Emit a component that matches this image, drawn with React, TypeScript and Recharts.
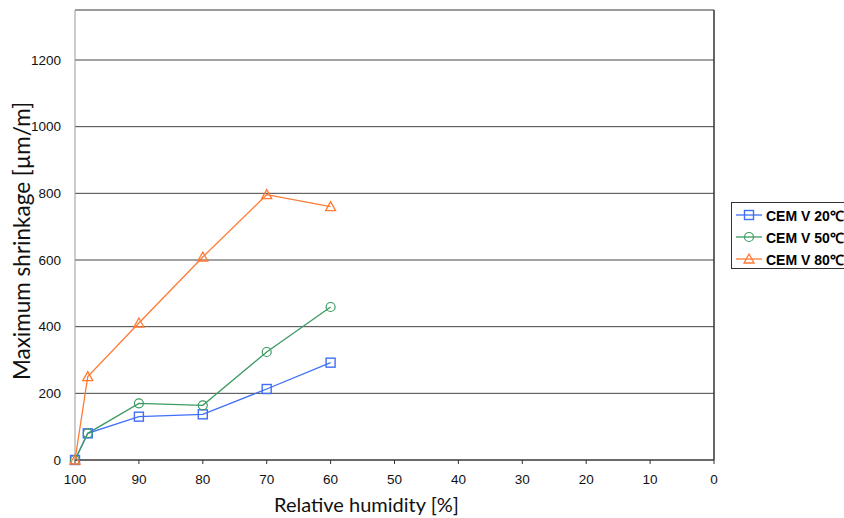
import React from "react";
import { LineChart, Line, XAxis, YAxis, CartesianGrid, ReferenceLine, Legend, Label } from "recharts";

const humidity = [100, 98, 90, 80, 70, 60];
const cem20 = [0, 80, 130, 137, 213, 292];
const cem50 = [0, 80, 170, 164, 324, 459];
const cem80 = [0, 250, 411, 609, 796, 760];
const xTicks = [100, 90, 80, 70, 60, 50, 40, 30, 20, 10, 0];
const yTicks = [0, 200, 400, 600, 800, 1000, 1200];
const seriesNames = ["CEM V 20℃", "CEM V 50℃", "CEM V 80℃"];

const BLUE = "#3f6ff5";
const GREEN = "#3c9a63";
const ORANGE = "#ff7a33";

const data = humidity.map((h, i) => ({ h, s20: cem20[i], s50: cem50[i], s80: cem80[i] }));

const Square = (props: any) => {
  const { cx, cy, stroke } = props;
  if (cx == null || cy == null) return null;
  return <rect x={cx - 4.5} y={cy - 4.5} width={9} height={9} fill="none" stroke={stroke} strokeWidth={1.4} />;
};
const Circle = (props: any) => {
  const { cx, cy, stroke } = props;
  if (cx == null || cy == null) return null;
  return <circle cx={cx} cy={cy} r={4.5} fill="none" stroke={stroke} strokeWidth={1.2} />;
};
const Triangle = (props: any) => {
  const { cx, cy, stroke } = props;
  if (cx == null || cy == null) return null;
  return (
    <polygon
      points={`${cx},${cy - 5} ${cx - 5},${cy + 4} ${cx + 5},${cy + 4}`}
      fill="none"
      stroke={stroke}
      strokeWidth={1.3}
    />
  );
};

const legendItems = [
  { name: seriesNames[0], color: BLUE, Marker: Square },
  { name: seriesNames[1], color: GREEN, Marker: Circle },
  { name: seriesNames[2], color: ORANGE, Marker: Triangle },
];

const LegendContent = () => (
  <div
    style={{
      border: "1px solid #333",
      background: "#fff",
      padding: "1px 0 1px 3px",
      width: 116,
      height: 67,
      boxSizing: "border-box",
    }}
  >
    {legendItems.map((it) => (
      <div key={it.name} style={{ display: "flex", alignItems: "center", height: 22 }}>
        <svg width={28} height={14}>
          <line x1={1} y1={7} x2={27} y2={7} stroke={it.color} strokeWidth={1.3} />
          <it.Marker cx={14} cy={7} stroke={it.color} />
        </svg>
        <span
          style={{
            fontFamily: "'Liberation Sans', Arial, sans-serif",
            fontWeight: "bold",
            fontSize: 14,
            color: "#000",
            marginLeft: 3,
            whiteSpace: "nowrap",
          }}
        >
          {it.name}
        </span>
      </div>
    ))}
  </div>
);

export default function App() {
  return (
    <div style={{ position: "absolute", left: 0, top: 0, width: 844, height: 518, background: "#fff", overflow: "hidden" }}>
      <LineChart width={844} height={518} data={data} margin={{ top: 10, right: 130, left: 0, bottom: 0 }}>
        <CartesianGrid vertical={false} stroke="#444" strokeWidth={1} />
        <XAxis
          dataKey="h"
          type="number"
          domain={[0, 100]}
          reversed
          ticks={xTicks}
          interval={0}
          height={58}
          stroke="#333"
          tickSize={4}
          tick={{ fill: "#111", fontSize: 13.5, fontFamily: "'Liberation Sans', Arial, sans-serif" }}
          tickMargin={10}
        >
          <Label
            value="Relative humidity [%]"
            position="insideBottom"
            offset={6}
            dx={-28}
            style={{ fontFamily: "Lato, 'Open Sans', sans-serif", fontSize: 20, fill: "#111" }}
          />
        </XAxis>
        <YAxis
          type="number"
          domain={[0, 1350]}
          ticks={yTicks}
          interval={0}
          width={75}
          stroke="#999"
          tickLine={false}
          tickMargin={8}
          tick={{ fill: "#111", fontSize: 13.5, fontFamily: "'Liberation Sans', Arial, sans-serif" }}
        >
          <Label
            value="Maximum shrinkage [µm/m]"
            angle={-90}
            position="insideLeft"
            offset={22}
            dy={6}
            style={{ textAnchor: "middle", fontFamily: "Lato, 'Open Sans', sans-serif", fontSize: 22.5, fill: "#111" }}
          />
        </YAxis>
        <ReferenceLine y={1350} stroke="#999" strokeWidth={1.5} />
        <ReferenceLine x={0} stroke="#333" strokeWidth={1.5} />
        <Legend
          layout="vertical"
          align="center"
          verticalAlign="middle"
          content={<LegendContent />}
          wrapperStyle={{ left: 731, top: 202, width: 116 }}
        />
        <Line
          dataKey="s20"
          name={seriesNames[0]}
          stroke={BLUE}
          strokeWidth={1.3}
          dot={<Square />}
          isAnimationActive={false}
        />
        <Line
          dataKey="s50"
          name={seriesNames[1]}
          stroke={GREEN}
          strokeWidth={1.3}
          dot={<Circle />}
          isAnimationActive={false}
        />
        <Line
          dataKey="s80"
          name={seriesNames[2]}
          stroke={ORANGE}
          strokeWidth={1.3}
          dot={<Triangle />}
          isAnimationActive={false}
        />
      </LineChart>
    </div>
  );
}
